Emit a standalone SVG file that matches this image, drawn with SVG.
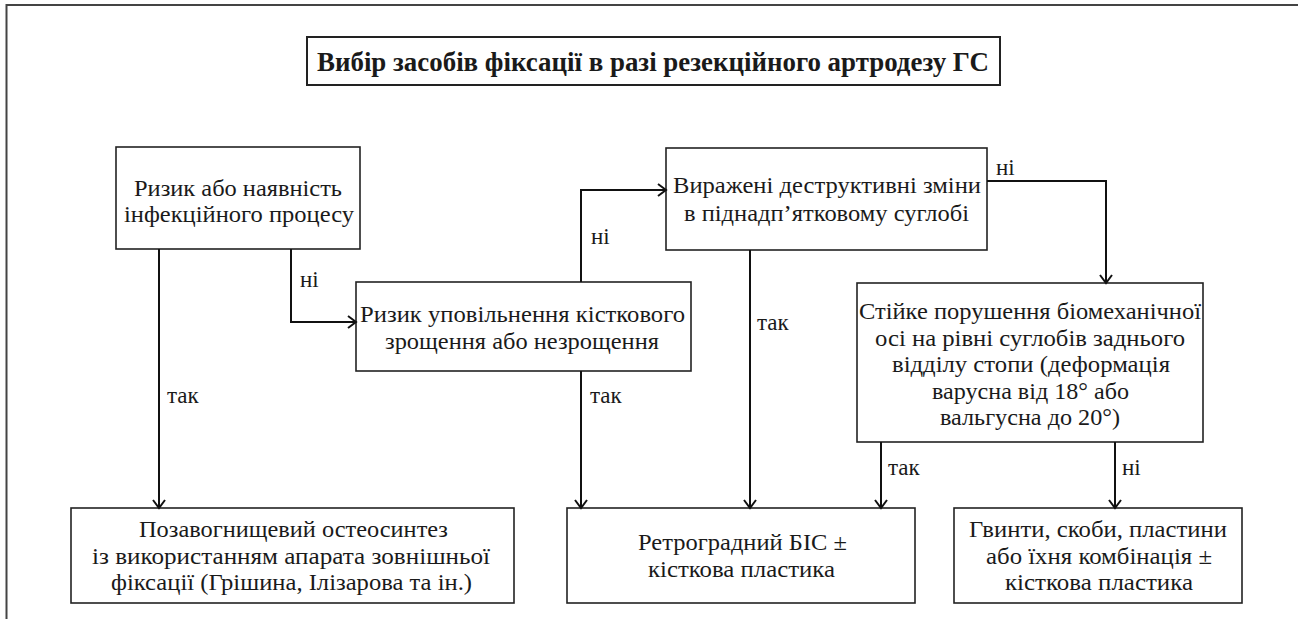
<svg xmlns="http://www.w3.org/2000/svg" width="1298" height="619" viewBox="0 0 1298 619" font-family="Liberation Serif, Tinos, Times New Roman, Times, Noto Serif, FreeSerif, DejaVu Serif, serif">
<defs>
<marker id="arr" markerWidth="12" markerHeight="14" refX="10" refY="7" orient="auto" markerUnits="userSpaceOnUse">
<path d="M2,1 L10,7 L2,13" fill="none" stroke="#111" stroke-width="2"/>
</marker>
<style>
.frame{fill:none;stroke:#444;stroke-width:2}
.box{fill:#fff;stroke:#222;stroke-width:1.6}
.tbox{fill:#fff;stroke:#222;stroke-width:2}
.t{font-size:23px;text-anchor:middle;fill:#1a1a1a}
.title{font-size:27px;font-weight:bold;text-anchor:middle;fill:#1a1a1a}
.lbl{font-size:23px;fill:#1a1a1a}
.c{fill:none;stroke:#111;stroke-width:2;marker-end:url(#arr)}
</style>
</defs>
<rect width="1298" height="619" fill="#fff"/>
<path class="frame" d="M6.5,619 L6.5,5 L1298,5"/>
<g id="title">
<rect class="tbox" x="307" y="37" width="693" height="48"/>
<text class="title" x="653" y="71" textLength="672" lengthAdjust="spacingAndGlyphs">Вибір засобів фіксації в разі резекційного артродезу ГС</text>
</g>
<g id="n1">
<rect class="box" x="116" y="147" width="244" height="102"/>
<text class="t" x="238" y="196" textLength="208" lengthAdjust="spacingAndGlyphs">Ризик або наявність</text>
<text class="t" x="239" y="222" textLength="230" lengthAdjust="spacingAndGlyphs">інфекційного процесу</text>
</g>
<g id="n2">
<rect class="box" x="356" y="282" width="335" height="89"/>
<text class="t" x="522.5" y="322" textLength="325" lengthAdjust="spacingAndGlyphs">Ризик уповільнення кісткового</text>
<text class="t" x="522" y="349" textLength="274" lengthAdjust="spacingAndGlyphs">зрощення або незрощення</text>
</g>
<g id="n3">
<rect class="box" x="666" y="148" width="321" height="102"/>
<text class="t" x="827" y="193" textLength="308" lengthAdjust="spacingAndGlyphs">Виражені деструктивні зміни</text>
<text class="t" x="826.5" y="221" textLength="285" lengthAdjust="spacingAndGlyphs">в піднадп’ятковому суглобі</text>
</g>
<g id="n4">
<rect class="box" x="857" y="283" width="346" height="159"/>
<text class="t" x="1030" y="319" textLength="342" lengthAdjust="spacingAndGlyphs">Стійке порушення біомеханічної</text>
<text class="t" x="1030" y="345.5" textLength="310" lengthAdjust="spacingAndGlyphs">осі на рівні суглобів заднього</text>
<text class="t" x="1031" y="372" textLength="278" lengthAdjust="spacingAndGlyphs">відділу стопи (деформація</text>
<text class="t" x="1030.5" y="398.5" textLength="197" lengthAdjust="spacingAndGlyphs">варусна від 18° або</text>
<text class="t" x="1030" y="425" textLength="180" lengthAdjust="spacingAndGlyphs">вальгусна до 20°)</text>
</g>
<g id="nA">
<rect class="box" x="71" y="508" width="443" height="95"/>
<text class="t" x="293.5" y="537" textLength="309" lengthAdjust="spacingAndGlyphs">Позавогнищевий остеосинтез</text>
<text class="t" x="291" y="563.5" textLength="398" lengthAdjust="spacingAndGlyphs">із використанням апарата зовнішньої</text>
<text class="t" x="291.5" y="590" textLength="361" lengthAdjust="spacingAndGlyphs">фіксації (Грішина, Ілізарова та ін.)</text>
</g>
<g id="nB">
<rect class="box" x="567" y="508" width="348" height="95"/>
<text class="t" x="742.5" y="550" textLength="209" lengthAdjust="spacingAndGlyphs">Ретроградний БІС ±</text>
<text class="t" x="741.5" y="577" textLength="187" lengthAdjust="spacingAndGlyphs">кісткова пластика</text>
</g>
<g id="nC">
<rect class="box" x="954" y="508" width="288" height="95"/>
<text class="t" x="1098" y="537" textLength="258" lengthAdjust="spacingAndGlyphs">Гвинти, скоби, пластини</text>
<text class="t" x="1099" y="563.5" textLength="226" lengthAdjust="spacingAndGlyphs">або їхня комбінація ±</text>
<text class="t" x="1099" y="590" textLength="188" lengthAdjust="spacingAndGlyphs">кісткова пластика</text>
</g>
<g id="connectors">
<path class="c" d="M159,249 L159,508"/>
<path class="c" d="M291,249 L291,322 L356,322"/>
<path class="c" d="M581,282 L581,190 L666,190"/>
<path class="c" d="M987,181 L1106,181 L1106,283"/>
<path class="c" d="M581,371 L581,508"/>
<path class="c" d="M750,250 L750,508"/>
<path class="c" d="M881,442 L881,508"/>
<path class="c" d="M1115,442 L1115,508"/>
<text class="lbl" x="167" y="403">так</text>
<text class="lbl" x="300" y="287">ні</text>
<text class="lbl" x="591" y="244">ні</text>
<text class="lbl" x="996" y="175">ні</text>
<text class="lbl" x="757" y="330">так</text>
<text class="lbl" x="590" y="403">так</text>
<text class="lbl" x="888" y="475">так</text>
<text class="lbl" x="1122" y="475">ні</text>
</g>
</svg>
